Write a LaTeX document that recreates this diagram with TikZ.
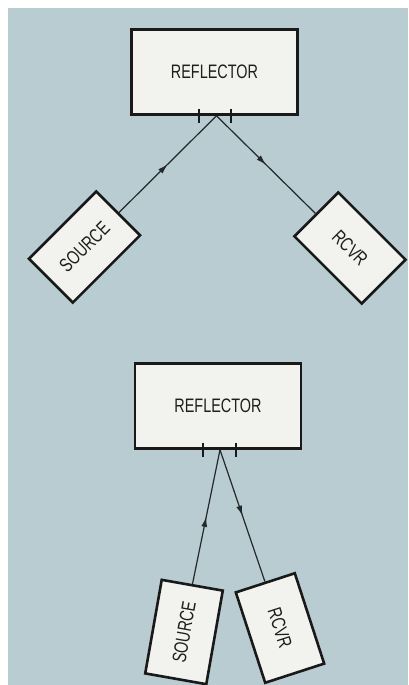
\documentclass[tikz,border=0pt]{standalone}
\usepackage{fontspec}
\setmainfont{Liberation Sans}[FakeStretch=0.74]
\usetikzlibrary{arrows.meta,decorations.markings,calc}
\definecolor{bgblue}{RGB}{184,204,210}
\definecolor{boxfill}{RGB}{242,242,238}
\definecolor{textgray}{RGB}{30,30,30}
\definecolor{linegray}{RGB}{35,40,42}
\begin{document}
\begin{tikzpicture}[x=1pt,y=-1pt,
  box/.style={draw=black!90, line width=2.6pt, fill=boxfill, inner sep=0pt,
    font=\fontsize{19.5}{19.5}\selectfont, text=textgray},
  refl/.style={box, minimum width=166pt, minimum height=85pt},
  unit/.style={box, minimum width=95pt, minimum height=62pt},
  conn/.style={line width=1.2pt, draw=linegray, postaction={decorate},
    decoration={markings, mark=at position 0.5 with {\arrow{Latex[length=10pt,width=6pt]}}}},
  tickmark/.style={line width=1.6pt, draw=black!90}]
\useasboundingbox (0,0) rectangle (408,685);
\fill[white] (0,0) rectangle (408,685);
\fill[bgblue] (8,8) rectangle (408,685);

% top diagram
\node[refl] (r1) at (214.5,72) {REFLECTOR};
\node[unit, rotate=45] (s1) at (84.5,247) {SOURCE};
\node[unit, rotate=-45] (c1) at (350,248) {RCVR};
\coordinate (a1) at ($(r1.south)+(2,0)$);
\draw[tickmark] ($(r1.south)+(-15.5,-7)$) -- ($(r1.south)+(-15.5,7)$);
\draw[tickmark] ($(r1.south)+(16.5,-7)$) -- ($(r1.south)+(16.5,7)$);
\draw[conn] (s1.east) -- (a1);
\draw[conn] (a1) -- (c1.west);

% bottom diagram
\node[refl] (r2) at (218,406) {REFLECTOR};
\node[unit, rotate=80] (s2) at (184,632) {SOURCE};
\node[unit, rotate=-72] (c2) at (280,628) {RCVR};
\coordinate (a2) at ($(r2.south)+(2,0)$);
\draw[tickmark] ($(r2.south)+(-15,-7)$) -- ($(r2.south)+(-15,7)$);
\draw[tickmark] ($(r2.south)+(18,-7)$) -- ($(r2.south)+(18,7)$);
\draw[conn] (s2.east) -- (a2);
\draw[conn] (a2) -- (c2.west);
\end{tikzpicture}
\end{document}
